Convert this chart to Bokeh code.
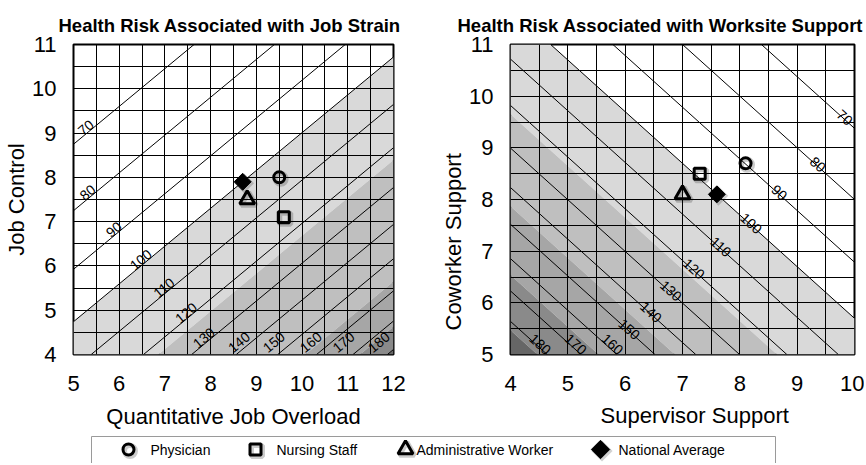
import math
import numpy as np
from bokeh.plotting import figure
from bokeh.layouts import column, row
from bokeh.models import FixedTicker, Title, Label, Range1d
from bokeh.embed import file_html
from bokeh.resources import INLINE
from bokeh.core.properties import value

FONT = "Liberation Sans"

# ---------------- data ----------------
groups = ["Physician", "Nursing Staff", "Administrative Worker", "National Average"]
markers = ["circle", "square", "triangle", "diamond"]

# Job strain chart
strain_x_ticks = [5, 6, 7, 8, 9, 10, 11, 12]
strain_y_ticks = [4, 5, 6, 7, 8, 9, 10, 11]
strain_coef = (0.076, -0.089)          # log-risk per unit overload / control
strain_center = (8.7, 7.9)             # national average = 100
strain_levels = [70, 80, 90, 100, 110, 120, 130, 140, 150, 160, 170, 180]
strain_label_x = [5.27, 5.31, 5.88, 6.47, 6.98, 7.46, 7.85, 8.62, 9.38, 10.19, 10.91, 11.68]
strain_bands = [100, 123, 157, 172, 180]
strain_overload = [9.5, 9.6, 8.8, 8.7]
strain_control = [8.0, 7.1, 7.5, 7.9]

# Worksite support chart
support_x_ticks = [4, 5, 6, 7, 8, 9, 10]
support_y_ticks = [5, 6, 7, 8, 9, 10, 11]
support_coef = (-0.097, -0.097)
support_center = (7.6, 8.1)
support_levels = [70, 80, 90, 100, 110, 120, 130, 140, 150, 160, 170, 180]
support_label_x = [9.83, 9.36, 8.69, 8.2, 7.67, 7.2, 6.8, 6.45, 6.07, 5.78, 5.14, 4.52]
support_bands = [100, 122, 145, 165, 183]
support_supervisor = [8.1, 7.3, 7.0, 7.6]
support_coworker = [8.7, 8.5, 8.1, 8.1]

band_colors = ["#d9d9d9", "#bfbfbf", "#a6a6a6", "#8a8a8a", "#666666"]

MARKER_STYLE = {"circle": 11, "square": 11, "triangle": 15}


# ---------------- helpers ----------------
def clip(poly, a, b, c):
    """keep a*x + b*y <= c"""
    out = []
    n = len(poly)
    for i in range(n):
        P = poly[i]
        Q = poly[(i + 1) % n]
        fp = a * P[0] + b * P[1] - c
        fq = a * Q[0] + b * Q[1] - c
        if fp <= 0:
            out.append(P)
        if (fp < 0 < fq) or (fq < 0 < fp):
            t = fp / (fp - fq)
            out.append((P[0] + t * (Q[0] - P[0]), P[1] + t * (Q[1] - P[1])))
    return out


def draw_marker(p, kind, x, y, dx, dy, diamond_size):
    # soft shadow
    if kind == "diamond":
        p.scatter([x + dx], [y - dy], marker="square", angle=math.pi / 4, size=diamond_size + 2,
                  fill_color="#000000", fill_alpha=0.18, line_color=None)
        p.scatter([x], [y], marker="square", angle=math.pi / 4, size=diamond_size,
                  fill_color="black", line_color="black", line_width=1)
    else:
        s = MARKER_STYLE[kind]
        p.scatter([x + dx], [y - dy], marker=kind, size=s, fill_color=None,
                  line_color="#000000", line_alpha=0.2, line_width=5)
        p.scatter([x], [y], marker=kind, size=s, fill_color=None,
                  line_color="black", line_width=3)


def make_chart(title, xticks, yticks, coef, center, levels, label_x, bands,
               xs, ys, fw, ml, mr, title_offset, xlabel, ylabel, right_labels,
               label_rise, label_floor, zero_pos):
    xr = (xticks[0], xticks[-1])
    yr = (yticks[0], yticks[-1])
    fh = 310
    p = figure(frame_width=fw, frame_height=fh, x_range=Range1d(*xr), y_range=Range1d(*yr),
               output_backend="svg", toolbar_location=None,
               min_border_left=ml, min_border_right=mr, min_border_top=44, min_border_bottom=76)
    p.background_fill_color = "white"
    p.border_fill_color = "white"
    p.outline_line_color = "black"
    p.outline_line_width = 2
    p.outline_line_alpha = 1

    ax, by = coef
    base = ax * center[0] + by * center[1]

    def g(L):
        return math.log(L / 100.0) + base

    # shaded bands
    box = [(xr[0], yr[0]), (xr[1], yr[0]), (xr[1], yr[1]), (xr[0], yr[1])]
    edges = bands + [1e9]
    pxs, pys, cols = [], [], []
    for i in range(len(bands)):
        poly = clip(box, -ax, -by, -g(edges[i]))
        poly = clip(poly, ax, by, g(edges[i + 1]))
        if len(poly) >= 3:
            pxs.append([q[0] for q in poly])
            pys.append([q[1] for q in poly])
            cols.append(band_colors[i])
    p.patches(pxs, pys, fill_color=cols, line_color=None, level="image")

    # grid
    grid_x = list(np.arange(xr[0], xr[1] + 0.001, 0.5))
    grid_y = list(np.arange(yr[0], yr[1] + 0.001, 0.5))
    p.xgrid.ticker = FixedTicker(ticks=grid_x)
    p.ygrid.ticker = FixedTicker(ticks=grid_y)
    for gr in (p.xgrid, p.ygrid):
        gr.grid_line_color = "black"
        gr.grid_line_alpha = 1
        gr.grid_line_width = 1
        gr.level = "underlay"

    # contour lines
    x0s, y0s, x1s, y1s = [], [], [], []
    for L in levels:
        pts = []
        for x in xr:
            y = (g(L) - ax * x) / by
            if yr[0] - 1e-9 <= y <= yr[1] + 1e-9:
                pts.append((x, y))
        for y in yr:
            x = (g(L) - by * y) / ax
            if xr[0] - 1e-9 <= x <= xr[1] + 1e-9:
                pts.append((x, y))
        if len(pts) >= 2:
            pts.sort()
            x0s.append(pts[0][0]); y0s.append(pts[0][1])
            x1s.append(pts[-1][0]); y1s.append(pts[-1][1])
    p.segment(x0s, y0s, x1s, y1s, line_color="black", line_width=1)

    # contour labels
    ppx = fw / (xr[1] - xr[0])
    ppy = fh / (yr[1] - yr[0])
    theta = math.atan((-ax / by) * ppy / ppx)
    lx = label_x
    ly = [max((g(L) - ax * x) / by + label_rise / ppy, label_floor) for L, x in zip(levels, lx)]
    p.text(lx, ly, text=[str(L) for L in levels], angle=theta,
           text_align="center", text_baseline="middle",
           text_font=value(FONT), text_font_size="14px", text_color="black")

    # group markers
    for i in range(4):
        draw_marker(p, markers[i], xs[i], ys[i], 1.5 / ppx, 1.5 / ppy, 12)

    # stray "0"
    p.add_layout(Label(x=zero_pos[0] + zero_pos[2] / ppx, y=zero_pos[1] - zero_pos[3] / ppy,
                       text="0", text_align="center", text_baseline="middle",
                       text_font=FONT, text_font_size="11px", text_color="#8c8c8c"))

    # axes
    p.xaxis.ticker = FixedTicker(ticks=xticks)
    p.yaxis.ticker = FixedTicker(ticks=yticks)
    for a in (p.xaxis, p.yaxis):
        a.axis_line_color = None
        a.major_tick_line_color = None
        a.minor_tick_line_color = None
        a.major_tick_out = 0
        a.major_tick_in = 0
        a.major_label_text_font = FONT
        a.major_label_text_font_size = "22px"
        a.major_label_text_color = "black"
        a.axis_label_text_font = FONT
        a.axis_label_text_font_size = "22px"
        a.axis_label_text_font_style = "normal"
        a.axis_label_text_color = "black"
    p.xaxis.major_label_standoff = 21
    p.yaxis.major_label_standoff = 17

    if right_labels:
        tx = Title(text=xlabel, align="left", offset=90, text_font=FONT, text_color="black",
                   text_font_size="22px", text_font_style="normal", standoff=15)
        p.add_layout(tx, "below")
        ty = Title(text=ylabel, align="left", offset=24, text_font=FONT, text_color="black",
                   text_font_size="22px", text_font_style="normal", standoff=2)
        p.add_layout(ty, "left")
    else:
        p.xaxis.axis_label = xlabel
        p.yaxis.axis_label = ylabel
        p.xaxis.axis_label_standoff = 10
        p.yaxis.axis_label_standoff = 0

    p.title.text = title
    p.title.text_font = FONT
    p.title.text_font_size = "18.5px"
    p.title.text_font_style = "bold"
    p.title.text_color = "black"
    p.title.align = "left"
    p.title.offset = title_offset
    p.title.standoff = 18
    return p


p1 = make_chart("Health Risk Associated with Job Strain", strain_x_ticks, strain_y_ticks,
                strain_coef, strain_center, strain_levels, strain_label_x, strain_bands,
                strain_overload, strain_control, fw=320, ml=73, mr=37, title_offset=-15,
                xlabel="Quantitative Job Overload", ylabel="Job Control", right_labels=False,
                label_rise=6.5, label_floor=4.28, zero_pos=(12, 4, -3, 6))
p2 = make_chart("Health Risk Associated with Worksite Support", support_x_ticks, support_y_ticks,
                support_coef, support_center, support_levels, support_label_x, support_bands,
                support_supervisor, support_coworker, fw=344, ml=80, mr=10, title_offset=-53,
                xlabel="Supervisor Support", ylabel="Coworker Support", right_labels=True,
                label_rise=2, label_floor=5.2, zero_pos=(4, 5, 14, 5))

# ---------------- legend strip ----------------
leg_marker_x = [128, 255, 405, 600]
leg_text_x = [150, 276, 416, 618]
LEG_H = 28
LEG_Y = 14
p3 = figure(width=864, height=LEG_H, x_range=Range1d(0, 864), y_range=Range1d(0, LEG_H),
            x_axis_type=None, y_axis_type=None, output_backend="svg", toolbar_location=None,
            min_border=0)
p3.grid.visible = False
p3.outline_line_color = None
p3.quad(left=[91], right=[775], bottom=[-10], top=[LEG_H - 1], fill_color=None,
        line_color="#9a9a9a", line_width=1)
for i in range(4):
    draw_marker(p3, markers[i], leg_marker_x[i], LEG_Y, 1.5, 1.5, 13)
p3.text(leg_text_x, [LEG_Y] * 4, text=groups, text_align="left", text_baseline="middle",
        text_font=value(FONT), text_font_size="14px", text_color="black")

layout = column(row(p1, p2), p3)
open("out.html", "w").write(file_html(layout, INLINE))
